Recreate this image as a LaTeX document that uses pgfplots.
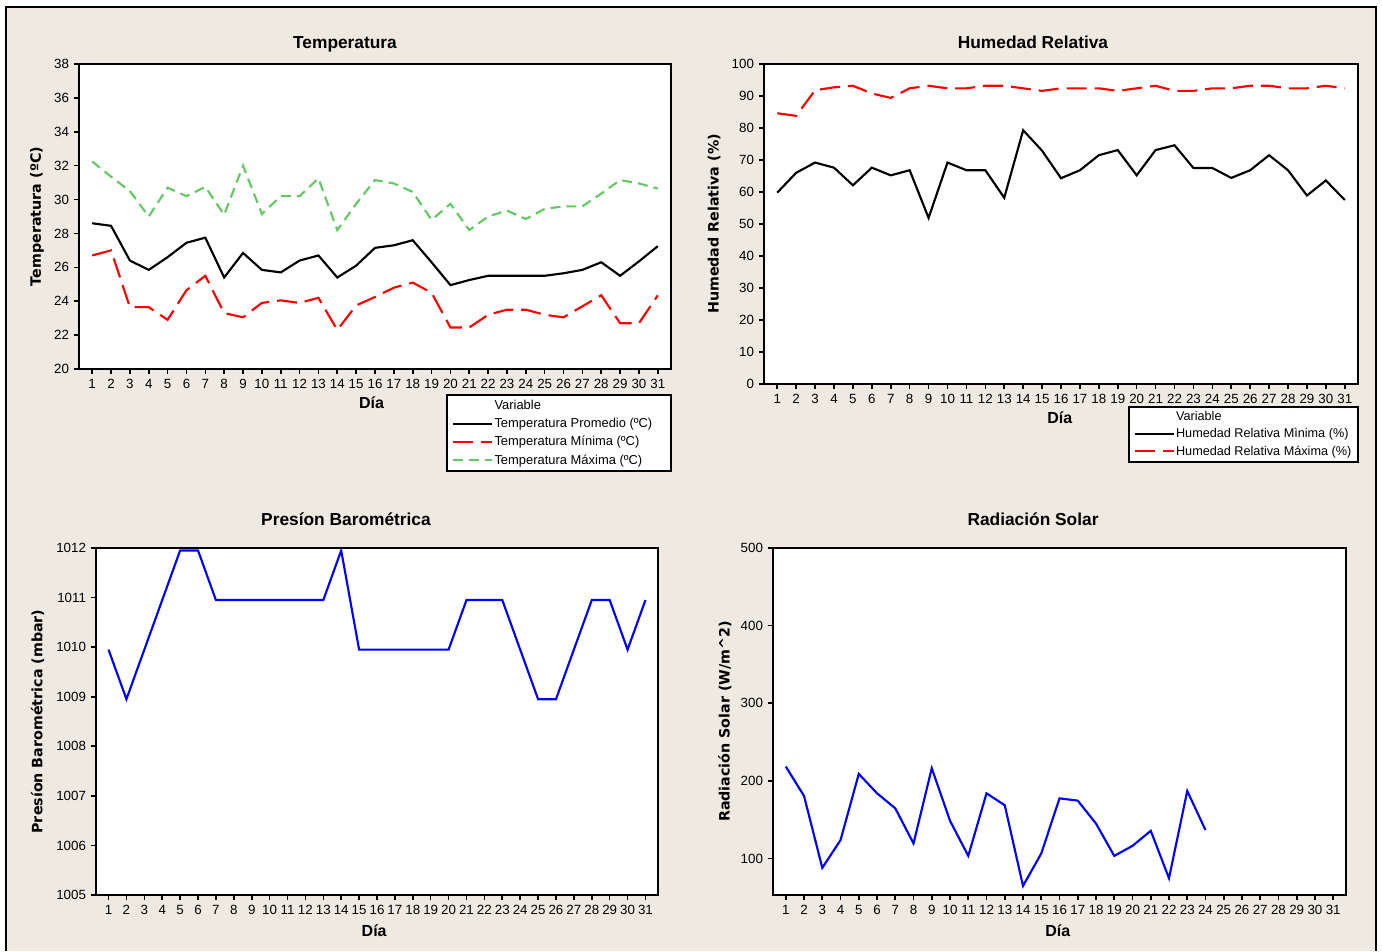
\documentclass[border=0pt]{standalone}
\usepackage{fontspec}
\setmainfont{Liberation Sans}
\newfontfamily\labfont{DejaVu Sans}
\usepackage{pgfplots}
\pgfplotsset{compat=1.18}
\definecolor{bg}{RGB}{238,234,225}
\definecolor{mygreen}{RGB}{100,200,100}

\pgfplotsset{
  mystyle/.style={
    scale only axis,
    axis background/.style={fill=white},
    axis line style={line width=1.5pt},
    tick align=outside, tick pos=left,
    major tick length=4pt,
    every tick/.style={black, line width=1.2pt},
    xtick={1,...,31}, xmin=0.3, xmax=31.7,
    tick label style={font=\fontsize{10}{12}\selectfont},
    /pgf/number format/assume math mode=true,
    /pgf/number format/1000 sep={},
    xlabel={Día},
    xlabel style={font=\fontsize{12}{14}\selectfont\bfseries, anchor=center},
    ylabel style={font=\labfont\fontsize{10.7}{12}\selectfont\bfseries, anchor=center},
    legend cell align=left,
    legend image code/.code={\draw[##1] (0pt,0pt) -- (29pt,0pt);},
  },
  blk/.style={black, line width=1.6pt},
  redd/.style={red, line width=1.6pt, dash pattern=on 15pt off 6pt},
  grn/.style={mygreen, line width=1.6pt, dash pattern=on 7.5pt off 4.5pt},
  blu/.style={blue, line width=1.6pt},
}

\begin{document}
\begin{tikzpicture}
\useasboundingbox (0,0) rectangle (1036.5pt,713.25pt);
\fill[white] (0,0) rectangle (1036.5pt,713.25pt);
\fill[bg] (4.5pt,0pt) rectangle (1032pt,708pt);
\draw[black, line width=1.5pt] (4.5pt,0pt) -- (4.5pt,708pt) -- (1032pt,708pt) -- (1032pt,0pt);

\node[font=\fontsize{13}{15}\selectfont\bfseries, anchor=base] at (258.75pt,676.5pt) {Temperatura};
\node[font=\fontsize{13}{15}\selectfont\bfseries, anchor=base] at (774.75pt,676.5pt) {Humedad Relativa};
\node[font=\fontsize{13}{15}\selectfont\bfseries, anchor=base] at (259.5pt,319.5pt) {Presíon Barométrica};
\node[font=\fontsize{13}{15}\selectfont\bfseries, anchor=base] at (774.75pt,319.5pt) {Radiación Solar};

% Temperatura
\begin{axis}[mystyle, at={(59.25pt,436.5pt)}, anchor=south west,
  width=444pt, height=228.75pt,
  ymin=20, ymax=38, ytick={20,22,...,38},
  ylabel={Temperatura (ºC)},
  ylabel style={at={(axis description cs:-0.071,0.5)}},
  xlabel style={at={(axis description cs:0.494,-0.111)}},
  legend style={at={(1.0017,-0.082)}, anchor=north east, draw=black, line width=1.5pt, fill=white,
    font=\fontsize{9.7}{11}\selectfont, inner xsep=4pt, inner ysep=2pt, row sep=1pt,
    nodes={inner xsep=1pt}},
]
\addlegendimage{empty legend}\addlegendentry{Variable}
\addplot[blk] coordinates {(1,28.6)(2,28.45)(3,26.4)(4,25.85)(5,26.6)(6,27.45)(7,27.75)(8,25.4)(9,26.85)(10,25.85)(11,25.7)(12,26.4)(13,26.7)(14,25.4)(15,26.1)(16,27.15)(17,27.3)(18,27.6)(19,26.3)(20,24.95)(21,25.25)(22,25.5)(23,25.5)(24,25.5)(25,25.5)(26,25.65)(27,25.85)(28,26.3)(29,25.5)(30,26.35)(31,27.25)};
\addlegendentry{Temperatura Promedio (ºC)\hspace*{9pt}}
\addplot[redd] coordinates {(1,26.7)(2,27.0)(3,23.65)(4,23.65)(5,22.9)(6,24.65)(7,25.5)(8,23.3)(9,23.05)(10,23.9)(11,24.05)(12,23.9)(13,24.2)(14,22.3)(15,23.75)(16,24.25)(17,24.8)(18,25.1)(19,24.5)(20,22.45)(21,22.45)(22,23.2)(23,23.5)(24,23.5)(25,23.2)(26,23.05)(27,23.7)(28,24.35)(29,22.7)(30,22.7)(31,24.35)};
\addlegendentry{Temperatura Mínima (ºC)}
\addplot[grn] coordinates {(1,32.25)(2,31.35)(3,30.5)(4,29.0)(5,30.7)(6,30.2)(7,30.75)(8,29.1)(9,32.0)(10,29.15)(11,30.2)(12,30.2)(13,31.25)(14,28.2)(15,29.75)(16,31.15)(17,30.95)(18,30.45)(19,28.8)(20,29.75)(21,28.2)(22,29.0)(23,29.35)(24,28.85)(25,29.45)(26,29.6)(27,29.6)(28,30.35)(29,31.15)(30,30.95)(31,30.65)};
\addlegendentry{Temperatura Máxima (ºC)}
\end{axis}

% Humedad
\begin{axis}[mystyle, at={(573pt,425.25pt)}, anchor=south west,
  width=445.5pt, height=240pt,
  ymin=0, ymax=100, ytick={0,10,...,100},
  ylabel={Humedad Relativa (\%)},
  ylabel style={at={(axis description cs:-0.084,0.5)}},
  xlabel style={at={(axis description cs:0.498,-0.106)}},
  legend style={at={(1.0017,-0.069)}, anchor=north east, draw=black, line width=1.5pt, fill=white,
    font=\fontsize{9.5}{11}\selectfont, inner xsep=4pt, inner ysep=1.5pt, row sep=0.3pt,
    nodes={inner xsep=1pt}},
]
\addlegendimage{empty legend}\addlegendentry{Variable}
\addplot[blk] coordinates {(1,59.8)(2,66.0)(3,69.2)(4,67.6)(5,62.1)(6,67.6)(7,65.2)(8,66.8)(9,51.9)(10,69.2)(11,66.8)(12,66.8)(13,58.2)(14,79.3)(15,72.9)(16,64.3)(17,66.8)(18,71.5)(19,73.1)(20,65.2)(21,73.1)(22,74.6)(23,67.5)(24,67.5)(25,64.4)(26,66.8)(27,71.5)(28,66.8)(29,58.9)(30,63.6)(31,57.5)};
\addlegendentry{Humedad Relativa Mìnima (\%)}
\addplot[redd] coordinates {(1,84.6)(2,83.8)(3,91.8)(4,92.7)(5,93.2)(6,90.8)(7,89.4)(8,92.4)(9,93.2)(10,92.4)(11,92.4)(12,93.2)(13,93.2)(14,92.4)(15,91.6)(16,92.4)(17,92.4)(18,92.4)(19,91.6)(20,92.4)(21,93.2)(22,91.6)(23,91.6)(24,92.4)(25,92.4)(26,93.2)(27,93.2)(28,92.4)(29,92.4)(30,93.2)(31,92.4)};
\addlegendentry{Humedad Relativa Máxima (\%)}
\end{axis}

% Presion
\begin{axis}[mystyle, at={(72pt,42pt)}, anchor=south west,
  width=421.5pt, height=260.25pt,
  ymin=1005, ymax=1012, ytick={1005,1006,...,1012},
  ylabel={Presíon Barométrica (mbar)},
  ylabel style={at={(axis description cs:-0.104,0.5)}},
  xlabel style={at={(axis description cs:0.495,-0.102)}},
]
\addplot[blu] coordinates {(1,1009.95)(2,1008.95)(3,1009.95)(4,1010.95)(5,1011.95)(6,1011.95)(7,1010.95)(8,1010.95)(9,1010.95)(10,1010.95)(11,1010.95)(12,1010.95)(13,1010.95)(14,1011.95)(15,1009.95)(16,1009.95)(17,1009.95)(18,1009.95)(19,1009.95)(20,1009.95)(21,1010.95)(22,1010.95)(23,1010.95)(24,1009.95)(25,1008.95)(26,1008.95)(27,1009.95)(28,1010.95)(29,1010.95)(30,1009.95)(31,1010.95)};
\end{axis}

% Radiacion
\begin{axis}[mystyle, at={(579.75pt,42pt)}, anchor=south west,
  width=429.75pt, height=260.25pt,
  ymin=53, ymax=500, ytick={100,200,...,500},
  ylabel={Radiación Solar (W/m\textasciicircum 2)},
  ylabel style={at={(axis description cs:-0.084,0.5)}},
  xlabel style={at={(axis description cs:0.497,-0.102)}},
]
\addplot[blu] coordinates {(1,218.5)(2,180.6)(3,88)(4,123.7)(5,209)(6,184)(7,164.7)(8,119.4)(9,216.3)(10,148.6)(11,103.4)(12,184)(13,168.6)(14,64.7)(15,106.5)(16,177.5)(17,174.6)(18,145)(19,103.4)(20,116.3)(21,135.7)(22,74.6)(23,187)(24,136.6)};
\end{axis}
\end{tikzpicture}
\end{document}
